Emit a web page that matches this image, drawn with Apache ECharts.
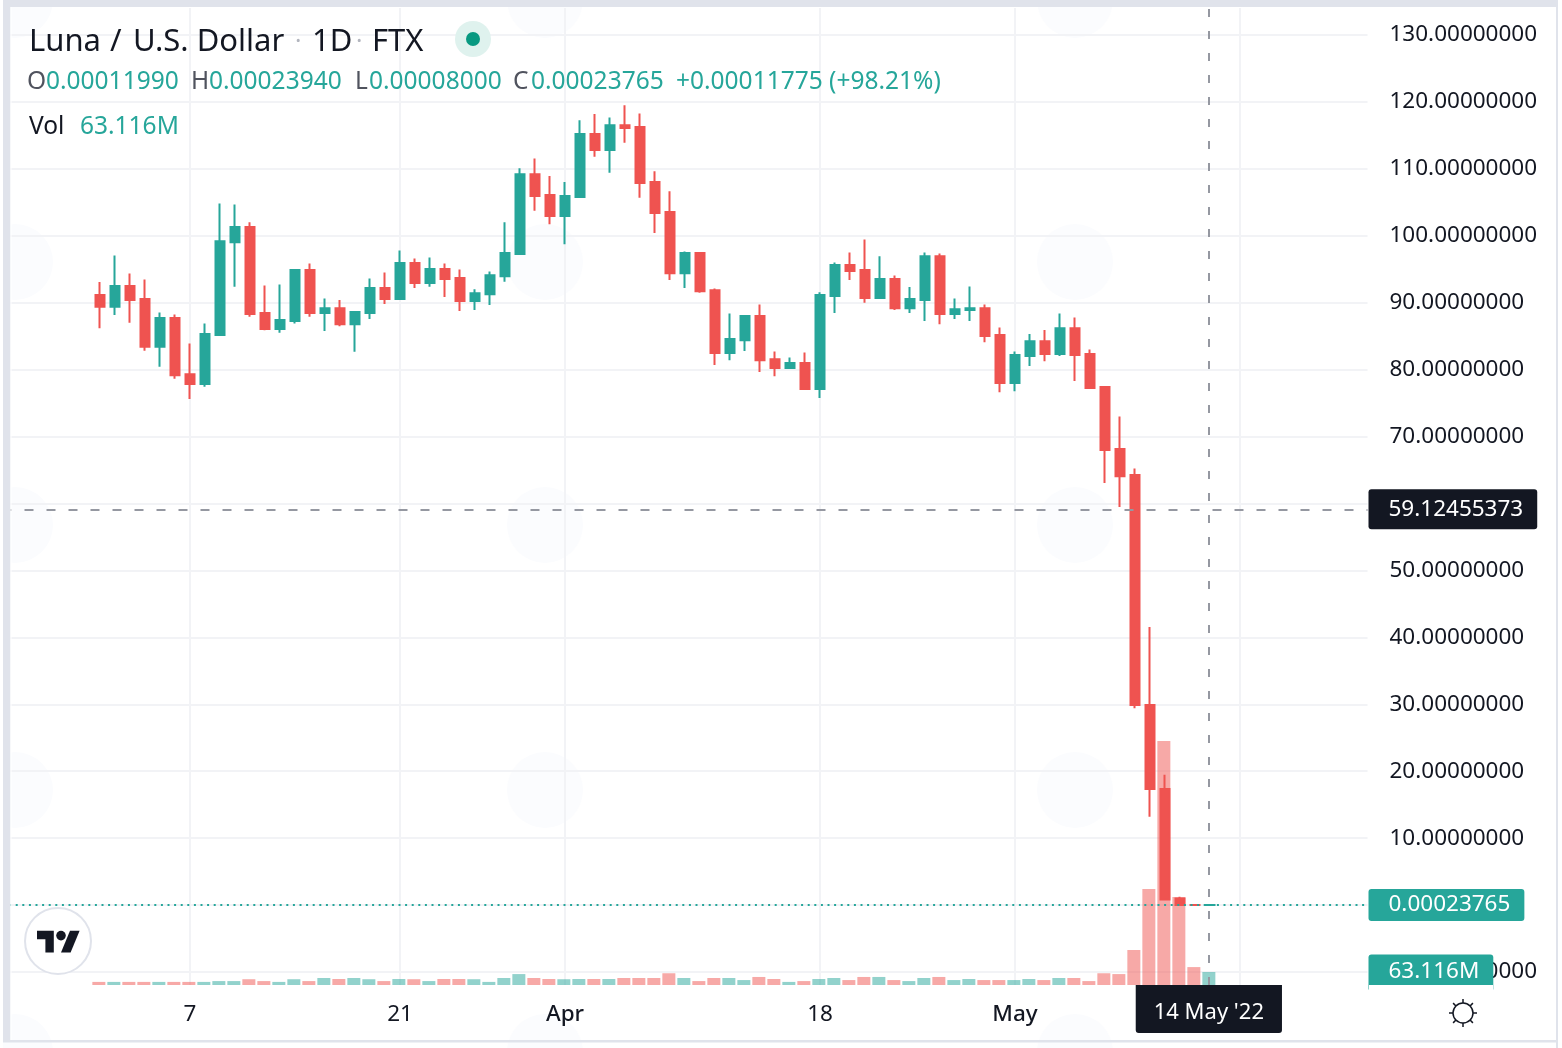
<!DOCTYPE html>
<html>
<head>
<meta charset="utf-8">
<style>html,body{margin:0;padding:0;background:#fff}#c{width:1562px;height:1048px}</style>
<script src="https://cdn.jsdelivr.net/npm/echarts@6/dist/echarts.min.js"></script>
</head>
<body>
<div id="c"></div>
<script>
const categories = [
'02-23','02-24','02-25','02-26','02-27','02-28',
'03-01','03-02','03-03','03-04','03-05','03-06','03-07','03-08','03-09','03-10','03-11','03-12','03-13','03-14','03-15','03-16',
'03-17','03-18','03-19','03-20','03-21','03-22','03-23','03-24','03-25','03-26','03-27','03-28','03-29','03-30','03-31',
'04-01','04-02','04-03','04-04','04-05','04-06','04-07','04-08','04-09','04-10','04-11','04-12','04-13','04-14','04-15',
'04-16','04-17','04-18','04-19','04-20','04-21','04-22','04-23','04-24','04-25','04-26','04-27','04-28','04-29','04-30',
'05-01','05-02','05-03','05-04','05-05','05-06','05-07','05-08','05-09','05-10','05-11','05-12','05-13','05-14',
'05-15','05-16','05-17','05-18','05-19','05-20','05-21','05-22','05-23','05-24'];
const firstCandle = 6;
const opens = [91.14,89.39,92.48,90.54,83.42,87.7,79.33,77.84,85.16,99.05,101.3,88.45,86.06,87.25,94.87,88.45,89.19,86.8,88.45,92.18,
90.54,95.92,92.93,95.02,93.68,90.24,91.28,93.97,97.26,109.2,106.08,102.94,105.78,115.19,112.8,116.53,116.24,108.02,103.54,94.42,
97.41,91.88,82.47,84.41,88.0,81.57,80.23,80.98,77.09,90.99,95.62,94.87,90.69,93.53,89.19,90.39,96.96,88.3,88.9,89.19,
85.16,77.99,82.02,84.26,82.32,86.2,82.32,77.39,68.13,64.24,29.88,17.33,1.0,0.003,0.0001199];
const closes = [89.39,92.48,90.39,83.42,87.7,79.18,77.84,85.31,99.2,101.3,88.3,86.06,87.4,94.87,88.45,89.19,86.8,88.6,92.18,90.54,
95.92,92.93,95.02,93.53,90.24,91.43,94.12,97.41,109.2,105.93,102.94,105.93,115.19,112.8,116.53,116.09,107.87,103.39,94.42,97.41,
91.73,82.47,84.56,88.0,81.42,80.23,80.98,77.09,91.14,95.62,94.72,90.69,93.53,89.19,90.54,96.96,88.3,89.04,89.19,85.01,
77.99,82.17,84.26,82.32,86.2,82.17,77.24,67.98,64.09,29.88,17.33,0.85,0.003,0.00012,0.00023765];
const lows = [86.2,88.15,87.0,82.82,80.43,78.64,75.6,77.44,85.06,92.38,87.9,85.9,85.5,86.9,87.9,85.76,86.5,82.67,87.55,89.79,
90.49,92.18,92.38,90.84,88.75,88.9,89.64,93.13,97.16,103.74,101.74,98.75,105.68,111.8,109.41,113.9,105.68,100.4,93.38,92.18,
91.48,80.68,81.42,82.77,79.63,79.03,80.08,77.09,75.75,88.45,93.38,89.99,90.54,88.9,88.45,87.25,86.8,87.55,87.25,84.11,
76.64,76.79,80.53,81.27,82.02,78.29,77.24,63.05,59.46,29.4,13.2,0.7,0.0015,0.00008,0.00008];
const highs = [93.08,97.06,94.37,93.48,88.55,88.25,83.91,86.9,104.83,104.68,102.04,92.58,92.73,94.97,95.87,90.64,90.39,88.7,93.63,94.52,
97.81,96.61,96.76,95.87,94.97,92.03,94.67,102.04,110.1,111.55,108.92,108.02,117.28,118.18,117.68,119.52,118.28,109.66,106.67,97.66,
97.56,92.13,88.4,88.1,89.74,82.72,81.82,82.57,91.58,96.02,97.51,99.45,96.96,94.07,92.33,97.51,97.36,90.64,92.43,89.74,
86.3,82.72,85.31,85.91,88.4,87.8,83.02,77.54,73.01,65.24,41.54,19.47,1.24,0.01,0.0002394];
const volumesM = [15,15,15,15,15,15,15,15,19,19,28,19,15,28,19,34,29,34,28,19,
29,28,19,29,29,28,15,34,53,34,29,28,29,29,29,34,34,34,57,34,
19,34,34,24,39,29,15,19,29,34,24,39,39,24,19,34,39,24,29,24,
24,24,29,24,34,34,19,57,53,170,466,1185,427,87,63.116];
const gridDates = ['03-07','03-21','04-01','04-18','05-01','05-16'];
const tickLabels = {'03-07':'7','03-21':'21','04-01':'{m|Apr}','04-18':'18','05-01':'{m|May}'};
const crossPrice = 59.12455373;
const crossDate = '05-14';
const crossDateLabel = "14 May '22";
const lastPrice = 0.00023765;
const lastVolumeM = 63.116;
const legendRow = [['O','0.00011990',27,46],['H','0.00023940',191,209],['L','0.00008000',355,369],['C','0.00023765',513,531],['','+0.00011775 (+98.21%)',676,676]];

const UP='#26a69a', DOWN='#ef5350', FONT='"Noto Sans", sans-serif', FRAME='#e0e3eb', FS=22.5;
const candleRows = opens.map((o,i)=>[categories[firstCandle+i],o,closes[i],lows[i],highs[i]]);
const volumeRows = volumesM.map((v,i)=>({value:[categories[firstCandle+i],v],
  itemStyle:{color:closes[i]>=opens[i]?'rgba(38,166,154,.5)':'rgba(239,83,80,.5)'}}));

const blobs=[];
[15,545,1075].forEach(x=>[0,262,525,790,1052].forEach(y=>blobs.push({type:'circle',z:-1,silent:true,shape:{cx:x,cy:y,r:38},style:{fill:'#fbfcfe'}})));
const rect=(x,y,w,h,fill,z=60)=>({type:'rect',z,silent:true,shape:{x,y,width:w,height:h},style:{fill}});
const txt=(x,y,text,fill,size)=>({type:'text',z:70,silent:true,x,y,style:{text,fill,font:`${size}px ${FONT}`,textVerticalAlign:'middle'}});
const legend=[];
legend.push(txt(29,42,'Luna',"#131722",31), txt(110,42,'/',"#131722",31), txt(133,42,'U.S. Dollar',"#131722",31), txt(295,42,'·',"#b2b5be",24), txt(312,42,'1D',"#131722",31), txt(356,42,'·',"#b2b5be",24), txt(372,42,'FTX',"#131722",31));
legendRow.forEach(([l,v,x,vx])=>{ if(l) legend.push(txt(x,82,l,'#50535e',24.5)); legend.push(txt(vx,82,v,UP,24.5));});
legend.push(txt(29,127,'Vol','#131722',24.5), txt(80,127,'63.116M',UP,24.5));
const sunRays=[];
for(let k=0;k<8;k++){const a=k*Math.PI/4;sunRays.push({type:'line',z:70,silent:true,shape:{x1:1463+Math.cos(a)*10,y1:1013+Math.sin(a)*10,x2:1463+Math.cos(a)*14,y2:1013+Math.sin(a)*14},style:{stroke:'#131722',lineWidth:1.5}});}
const logoPoly=(pts)=>({type:'polygon',z:71,silent:true,x:37,y:926,scaleX:1.2,scaleY:1.2,shape:{points:pts},style:{fill:'#131722'}});

const chart=echarts.init(document.getElementById('c'),null,{renderer:'canvas'});
chart.setOption({
  animation:false,
  backgroundColor:'#fff',
  textStyle:{fontFamily:FONT},
  grid:[
    {left:2.5,right:194.5,top:35,bottom:76,containLabel:false},
    {left:2.5,right:194.5,top:8,bottom:63,containLabel:false}
  ],
  xAxis:[
    {type:'category',gridIndex:0,data:categories,show:false},
    {type:'category',gridIndex:1,data:categories,
      axisLine:{show:false},axisTick:{show:false},
      axisLabel:{margin:18,fontSize:FS,color:'#131722',fontFamily:FONT,
        interval:(i,v)=>v in tickLabels,hideOverlap:false,
        formatter:v=>tickLabels[v]||'',rich:{m:{fontSize:FS,fontWeight:500,color:'#131722',fontFamily:FONT}}},
      splitLine:{show:true,alignWithLabel:true,interval:(i,v)=>gridDates.includes(v),lineStyle:{color:'#f2f3f6',width:2}}}
  ],
  yAxis:[
    {type:'value',gridIndex:0,position:'right',min:-10,max:130,interval:10,
      axisLine:{show:false},axisTick:{show:false},
      axisLabel:{margin:22,fontSize:FS,color:'#131722',fontFamily:FONT,align:'left',padding:[4,0,0,0],
        formatter:v=>(v<0?'−':'')+Math.abs(v).toFixed(8)},
      splitLine:{show:true,lineStyle:{color:'#f2f3f6',width:2}}},
    {type:'value',gridIndex:1,min:0,max:4743,show:false,splitLine:{show:false}}
  ],
  series:[
    {type:'bar',name:'Volume',xAxisIndex:1,yAxisIndex:1,z:2,barWidth:13,data:volumeRows,encode:{x:0,y:1},
      markLine:{silent:true,symbol:'none',animation:false,precision:10,data:[
        {xAxis:crossDate,lineStyle:{color:'#9598a1',type:[8,14],width:2},
          label:{show:true,position:'start',distance:0,formatter:crossDateLabel,color:'#fff',fontSize:22,fontFamily:FONT,
            backgroundColor:'#131722',padding:[17,18,9,18],borderRadius:[0,0,3,3]}}
      ]}},
    {type:'bar',name:'Volume tag',xAxisIndex:1,yAxisIndex:1,z:4,data:[],
      markLine:{silent:true,symbol:'none',animation:false,precision:10,data:[
        {yAxis:lastVolumeM,lineStyle:{color:'rgba(0,0,0,0)',width:1},
          label:{show:true,position:'end',distance:1,formatter:lastVolumeM.toFixed(3)+'M',color:'#fff',fontSize:FS,fontFamily:FONT,
            backgroundColor:UP,padding:[8,14,4,20],borderRadius:[3,3,0,0]}}
      ]}},
    {type:'candlestick',name:'LUNAUSD',xAxisIndex:0,yAxisIndex:0,z:3,barWidth:10,
      data:candleRows,encode:{x:0,y:[1,2,3,4]},
      itemStyle:{color:UP,color0:DOWN,borderColor:UP,borderColor0:DOWN,borderWidth:2},
      markLine:{silent:true,symbol:'none',animation:false,precision:10,data:[
        {yAxis:crossPrice,lineStyle:{color:'#9598a1',type:[9,13],width:2},
          label:{show:true,position:'end',distance:1,formatter:crossPrice.toFixed(8),color:'#fff',fontSize:FS,fontFamily:FONT,
            backgroundColor:'#131722',padding:[10,14,7,20],borderRadius:3}},
        {yAxis:lastPrice,lineStyle:{color:UP,type:[2,4.6],width:2},
          label:{show:true,position:'end',distance:1,formatter:lastPrice.toFixed(8),color:'#fff',fontSize:FS,fontFamily:FONT,
            backgroundColor:UP,padding:[6,14,3,20],borderRadius:3}}
      ]}}
  ],
  graphic:{elements:[
    ...blobs,
    rect(0,0,1562,7,FRAME), rect(0,0,3,1048,'#fff'), rect(3,0,7.5,1041,FRAME), rect(10.5,7,1,1033,'#fff'),
    rect(3,1040,1555,2.5,FRAME), rect(1556,0,2,1048,FRAME), rect(1558,0,4,1048,'#fff'),
    rect(1369,985,124,6,'#fff',61),
    {type:'circle',z:70,silent:true,shape:{cx:473,cy:39,r:18},style:{fill:'#dff2ee'}},
    {type:'circle',z:71,silent:true,shape:{cx:473,cy:39,r:7},style:{fill:'#089981'}},
    {type:'circle',z:70,silent:true,shape:{cx:58,cy:941,r:33},style:{fill:'#fff',stroke:'#e0e3eb',lineWidth:2}},
    logoPoly([[14,22],[7,22],[7,11],[0,11],[0,4],[14,4]]),
    logoPoly([[28,22],[20,22],[27.5,4],[35.5,4]]),
    {type:'circle',z:71,silent:true,shape:{cx:61,cy:935.6,r:4.8},style:{fill:'#131722'}},
    {type:'circle',z:70,silent:true,shape:{cx:1463,cy:1013,r:10},style:{fill:'#fff',stroke:'#131722',lineWidth:1.5}},
    ...sunRays,
    ...legend
  ]}
});
</script>
</body>
</html>
